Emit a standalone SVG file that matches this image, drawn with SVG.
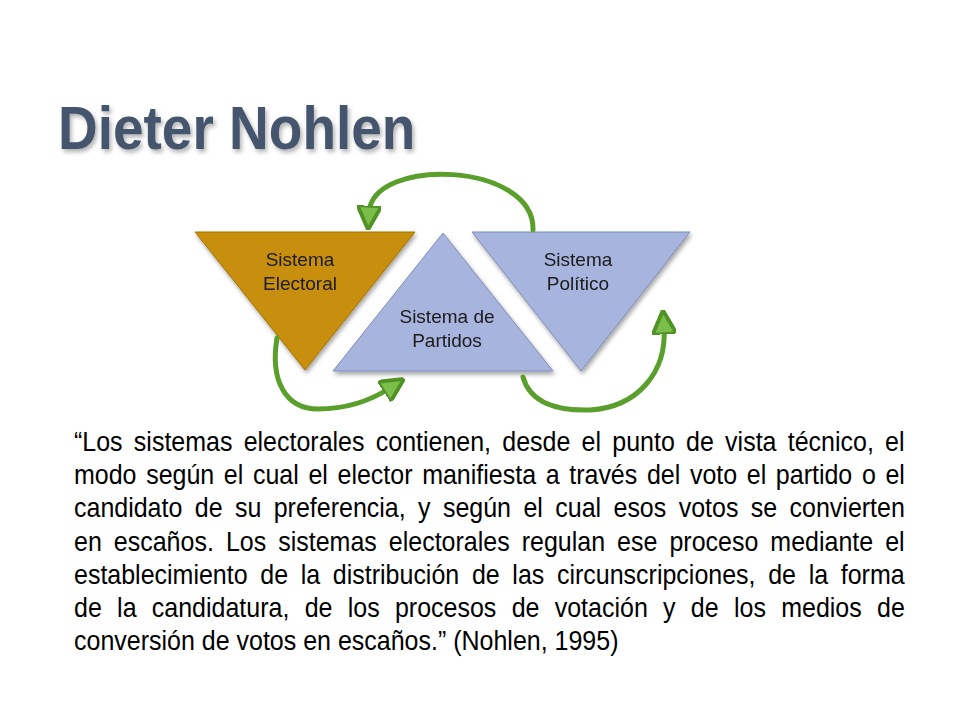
<svg xmlns="http://www.w3.org/2000/svg" width="960" height="720" viewBox="0 0 960 720">
<defs>
<filter id="tshadow" x="-10%" y="-20%" width="130%" height="160%">
<feDropShadow dx="2" dy="3" stdDeviation="2" flood-color="#000" flood-opacity="0.3"/>
</filter>
<filter id="shapeShadow" x="-10%" y="-10%" width="130%" height="130%">
<feDropShadow dx="1.5" dy="3" stdDeviation="2.2" flood-color="#000" flood-opacity="0.35"/>
</filter>
<marker id="ah" viewBox="0 0 10 10" refX="3" refY="5" markerWidth="4.8" markerHeight="4.8" orient="auto" markerUnits="strokeWidth">
<path d="M0,0 L10,5 L0,10 Z" fill="#7cbe4a" stroke="#4f9324" stroke-width="1.6" stroke-linejoin="round"/>
</marker>
<style>
.title{font-family:"Liberation Sans",Arial,sans-serif;font-weight:bold;font-size:55px;fill:#45556d;}
.lbl{font-family:"Liberation Sans",Arial,sans-serif;font-size:19px;fill:#1a1a1a;text-anchor:middle;}
.body{font-family:"Liberation Sans",Arial,sans-serif;font-size:25px;fill:#000;}
.gold{fill:#c88e0a;stroke:#a47400;stroke-width:1;}
.blue{fill:#a7b4dd;stroke:#7f8db8;stroke-width:1;}
.arr{fill:none;stroke:#5a9f2c;stroke-width:5;stroke-linecap:round;marker-end:url(#ah);}
</style>
</defs>
<rect width="960" height="720" fill="#fff"/>
<g id="title" filter="url(#tshadow)">
<text class="title" x="58" y="0" transform="translate(0,149) scale(1,1.12)">Dieter Nohlen</text>
</g>
<g id="sistema-electoral" filter="url(#shapeShadow)">
<polygon class="gold" points="195,232 415,232 305,370"/>
<text class="lbl" x="300" y="266">Sistema</text>
<text class="lbl" x="300" y="290">Electoral</text>
</g>
<g id="sistema-partidos" filter="url(#shapeShadow)">
<polygon class="blue" points="443,233 553,371 333,371"/>
<text class="lbl" x="447" y="323">Sistema de</text>
<text class="lbl" x="447" y="347">Partidos</text>
</g>
<g id="sistema-politico" filter="url(#shapeShadow)">
<polygon class="blue" points="472,232 690,232 581,371"/>
<text class="lbl" x="578" y="266">Sistema</text>
<text class="lbl" x="578" y="290">Político</text>
</g>
<g id="connectors">
<path class="arr" d="M533,230 C535,162 372,156 369,213"/>
<path class="arr" d="M277,338 C270,380 285,409 318,409 C348,409 373,399 390,388"/>
<path class="arr" d="M523,377 C530,403 558,411 590,410 C638,407 667,372 664,327"/>
</g>
<g id="quote" transform="translate(0,451) scale(1,1.1) translate(0,-451)">
<text class="body" x="74" y="451" style="word-spacing:4.3px">“Los sistemas electorales contienen, desde el punto de vista técnico, el</text>
<text class="body" x="74" y="481.2" style="word-spacing:2.7px">modo según el cual el elector manifiesta a través del voto el partido o el</text>
<text class="body" x="74" y="511.4" style="word-spacing:5.45px">candidato de su preferencia, y según el cual esos votos se convierten</text>
<text class="body" x="74" y="541.6" style="word-spacing:5.1px">en escaños. Los sistemas electorales regulan ese proceso mediante el</text>
<text class="body" x="74" y="571.8" style="word-spacing:5.72px">establecimiento de la distribución de las circunscripciones, de la forma</text>
<text class="body" x="74" y="602" style="word-spacing:8.35px">de la candidatura, de los procesos de votación y de los medios de</text>
<text class="body" x="74" y="632.2">conversión de votos en escaños.” (Nohlen, 1995)</text>
</g>
</svg>
